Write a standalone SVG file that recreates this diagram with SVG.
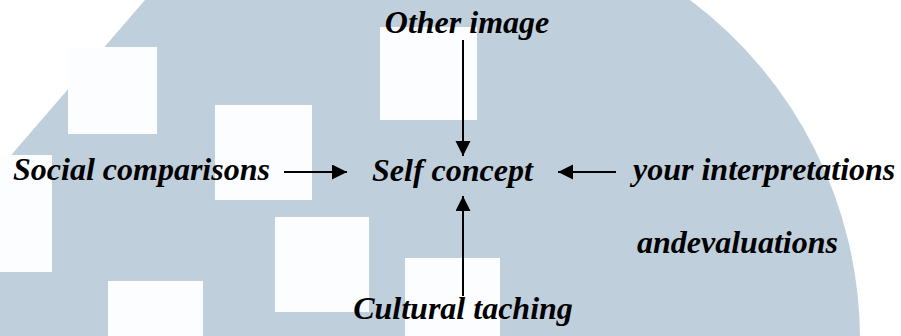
<svg xmlns="http://www.w3.org/2000/svg" width="901" height="336" viewBox="0 0 901 336">
  <defs>
    <style>
      .lbl { font-family: "Liberation Serif", "Times New Roman", serif; font-size: 32px; font-weight: bold; font-style: italic; fill: #000; }
      .sq { fill: #fcfdfe; }
      .conn { stroke: #000; stroke-width: 2; fill: none; marker-end: url(#arrow); }
    </style>
    <marker id="arrow" markerUnits="userSpaceOnUse" markerWidth="16" markerHeight="16" refX="15" refY="7.5" orient="auto">
      <path d="M0,0 L15,7.5 L0,15 Z" fill="#000"/>
    </marker>
  </defs>
  <rect width="901" height="336" fill="#ffffff"/>
  <g id="background">
    <path d="M145,0 L690,0 A425,425 0 0 1 860,336 L0,336 L0,168 Z" fill="#c0cfdc"/>
    <rect class="sq" x="68" y="47" width="89" height="87"/>
    <rect class="sq" x="215" y="105" width="97" height="95"/>
    <rect class="sq" x="380" y="27" width="97" height="93"/>
    <rect class="sq" x="0" y="155" width="52" height="117"/>
    <rect class="sq" x="108" y="281" width="95" height="60"/>
    <rect class="sq" x="275" y="217" width="94" height="95"/>
    <rect class="sq" x="405" y="258" width="95" height="80"/>
  </g>
  <g id="other-image"><text class="lbl" x="467" y="33" text-anchor="middle">Other image</text></g>
  <g id="social-comparisons"><text class="lbl" x="13" y="180">Social comparisons</text></g>
  <g id="self-concept"><text class="lbl" x="372" y="181">Self concept</text></g>
  <g id="your-interpretations">
    <text class="lbl" x="633" y="180">your interpretations</text>
    <text class="lbl" x="637" y="253">andevaluations</text>
  </g>
  <g id="cultural-taching"><text class="lbl" x="463" y="319" text-anchor="middle">Cultural taching</text></g>
  <g id="connectors">
    <line class="conn" x1="463" y1="40" x2="463" y2="156"/>
    <line class="conn" x1="463" y1="296" x2="463" y2="196"/>
    <line class="conn" x1="284" y1="172" x2="347" y2="172"/>
    <line class="conn" x1="616" y1="172" x2="558" y2="172"/>
  </g>
</svg>
